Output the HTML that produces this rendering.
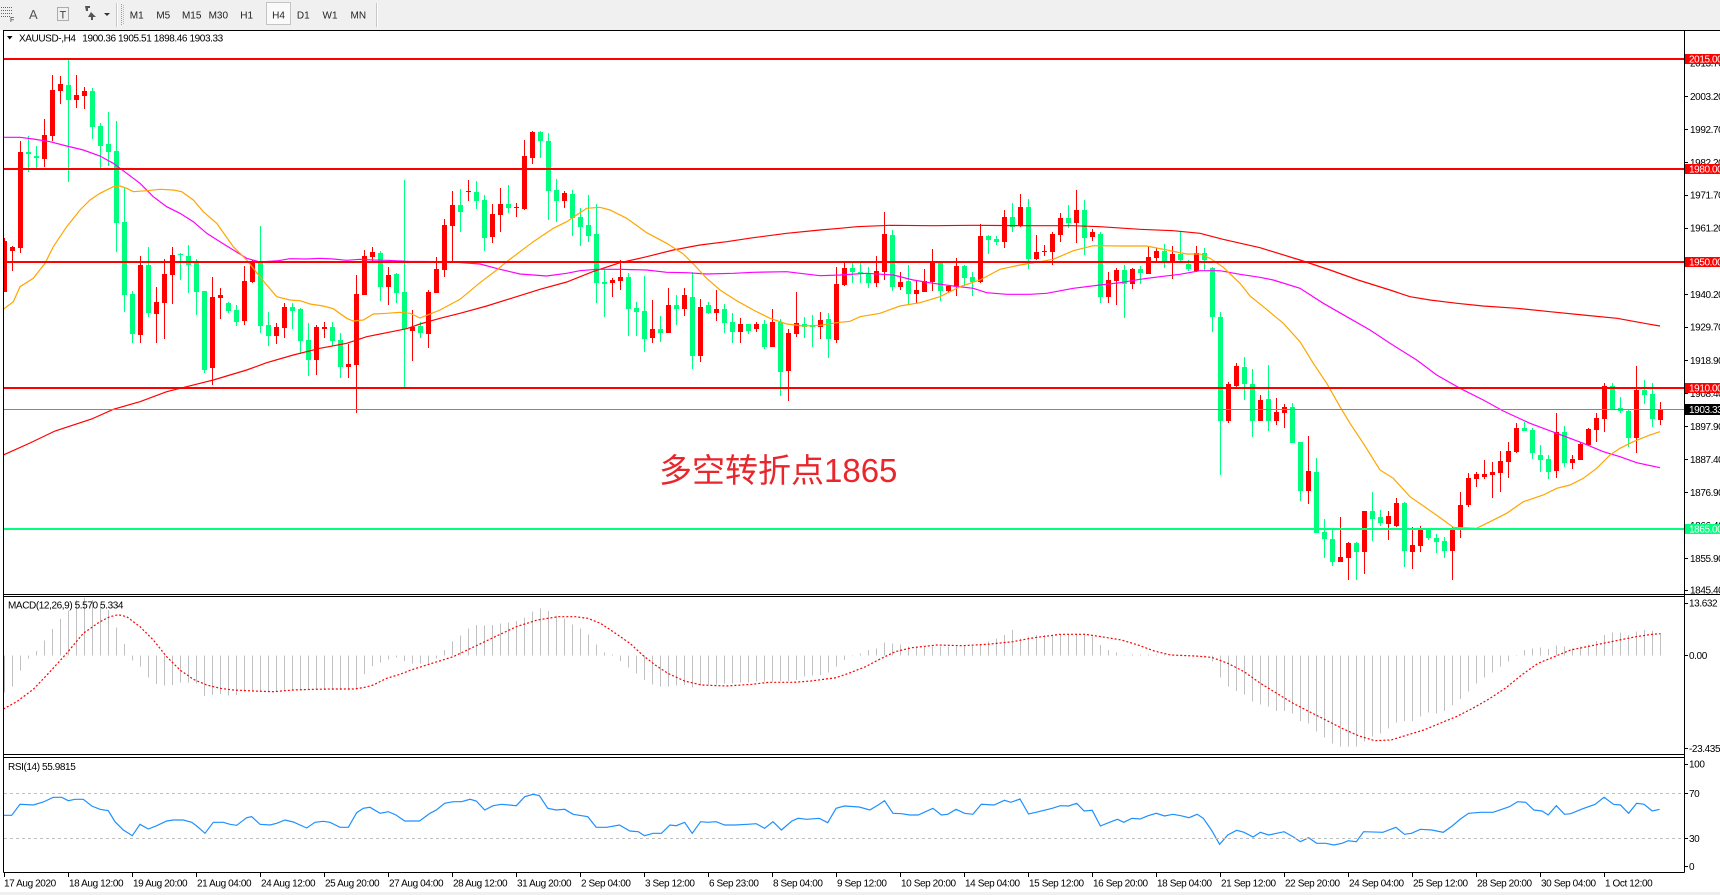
<!DOCTYPE html>
<html><head><meta charset="utf-8"><title>XAUUSD-,H4</title>
<style>
html,body{margin:0;padding:0;background:#fff}
body{width:1720px;height:895px;overflow:hidden}
svg{display:block}
text{font-family:"Liberation Sans","Noto Sans CJK SC",sans-serif}
.ax{font-size:10px;letter-spacing:-0.4px;fill:#000}
.tb{font-size:10px;fill:#222;text-anchor:middle}
.wl{font-size:10px;letter-spacing:-0.4px;fill:#fff}
.cj{font-family:"Liberation Sans","Noto Sans CJK SC","WenQuanYi Zen Hei",sans-serif;font-size:33px;fill:#E8262C}
</style></head><body>
<svg id="s" xmlns="http://www.w3.org/2000/svg" width="1720" height="895" viewBox="0 0 1720 895">
<defs>
<clipPath id="cm"><rect x="4" y="31" width="1680" height="563"/></clipPath>
<clipPath id="cd"><rect x="4" y="597" width="1680" height="157"/></clipPath>
<clipPath id="cr"><rect x="4" y="758" width="1680" height="114"/></clipPath>
</defs>
<rect x="0" y="0" width="1720" height="895" fill="#fff"/>
<!-- toolbar -->
<rect x="0" y="0" width="1720" height="30" fill="#F0F0F0"/>
<g stroke="#666" stroke-width="1" stroke-dasharray="1 1" shape-rendering="crispEdges">
<line x1="1" y1="7.5" x2="12" y2="7.5"/><line x1="1" y1="10.5" x2="12" y2="10.5"/><line x1="1" y1="13.5" x2="12" y2="13.5"/><line x1="1" y1="16.5" x2="10" y2="16.5"/>
<rect x="57.5" y="7.5" width="11" height="13" fill="none"/>
<line x1="121.5" y1="4" x2="121.5" y2="25" stroke="#999"/><line x1="123.5" y1="5" x2="123.5" y2="25" stroke="#bbb"/>
</g>
<text x="10" y="22" style="font-size:7px;fill:#333">F</text>
<text x="29" y="19" style="font-size:13px;fill:#555">A</text>
<text x="59.5" y="18.5" style="font-size:11px;fill:#444">T</text>
<polygon points="85,6 90,6 90,8 88,8 88,11 86,11" fill="#555"/>
<polygon points="91,12 96,17 93,17 93,20 91,20 91,17 88,17" fill="#555"/>
<polygon points="104,13 110,13 107,16" fill="#333"/>
<line x1="116.5" y1="3" x2="116.5" y2="27" stroke="#C8C8C8"/><line x1="117.5" y1="3" x2="117.5" y2="27" stroke="#fff"/>
<line x1="376.5" y1="3" x2="376.5" y2="27" stroke="#C8C8C8"/><line x1="377.5" y1="3" x2="377.5" y2="27" stroke="#fff"/>
<rect x="266.5" y="2.5" width="24" height="22" fill="#FAFAFA" stroke="#C4C4C4"/>
<text class="tb" x="136.7" y="18.5">M1</text>
<text class="tb" x="163.3" y="18.5">M5</text>
<text class="tb" x="191.7" y="18.5">M15</text>
<text class="tb" x="218.3" y="18.5">M30</text>
<text class="tb" x="246.7" y="18.5">H1</text>
<text class="tb" x="278.5" y="18.5">H4</text>
<text class="tb" x="303.3" y="18.5">D1</text>
<text class="tb" x="330" y="18.5">W1</text>
<text class="tb" x="358.3" y="18.5">MN</text>

<!-- chart area white -->
<rect x="0" y="30" width="1720" height="862" fill="#fff"/>
<rect x="0" y="892" width="1720" height="3" fill="#F0F0F0"/>

<g id="gm" clip-path="url(#cm)" shape-rendering="crispEdges"></g>
<g id="gd" clip-path="url(#cd)"></g>
<g id="gr" clip-path="url(#cr)"></g>

<!-- horizontal objects -->
<g shape-rendering="crispEdges">
<rect x="4" y="58" width="1680" height="2" fill="#FF0000"/>
<rect x="4" y="168" width="1680" height="2" fill="#FF0000"/>
<rect x="4" y="261" width="1680" height="2" fill="#FF0000"/>
<rect x="4" y="387" width="1680" height="2" fill="#FF0000"/>
<rect x="4" y="409" width="1680" height="1" fill="#7B8A99"/>
<rect x="4" y="528" width="1680" height="2" fill="#00FF7F"/>
<line x1="4" y1="793.5" x2="1684" y2="793.5" stroke="#C0C0C0" stroke-dasharray="3 3"/>
<line x1="4" y1="838.5" x2="1684" y2="838.5" stroke="#C0C0C0" stroke-dasharray="3 3"/>
</g>

<text class="cj" x="659" y="482">多空转折点1865</text>

<!-- frame -->
<g stroke="#000" stroke-width="1" shape-rendering="crispEdges" fill="none">
<line x1="3" y1="30.5" x2="1720" y2="30.5"/>
<line x1="3.5" y1="30.5" x2="3.5" y2="872.5"/>
<line x1="1684.5" y1="30.5" x2="1684.5" y2="872.5"/>
<line x1="3.5" y1="594.5" x2="1720" y2="594.5"/>
<line x1="3.5" y1="596.5" x2="1684.5" y2="596.5"/>
<line x1="3.5" y1="754.5" x2="1684.5" y2="754.5"/>
<line x1="3.5" y1="757.5" x2="1684.5" y2="757.5"/>
<line x1="3.5" y1="872.5" x2="1684.5" y2="872.5"/>
</g>

<!-- header -->
<polygon points="7,36 12.5,36 9.75,39.5" fill="#000"/>
<text class="ax" x="19" y="41.5">XAUUSD-,H4</text>
<text class="ax" x="82.3" y="41.5">1900.36 1905.51 1898.46 1903.33</text>
<text class="ax" x="8" y="608.5">MACD(12,26,9) 5.570 5.334</text>
<text class="ax" x="8" y="770">RSI(14) 55.9815</text>

<!-- right axis ticks -->
<g stroke="#000" shape-rendering="crispEdges">
<line x1="1684" y1="63.5" x2="1688" y2="63.5"/><line x1="1684" y1="96.5" x2="1688" y2="96.5"/><line x1="1684" y1="129.5" x2="1688" y2="129.5"/><line x1="1684" y1="162.5" x2="1688" y2="162.5"/><line x1="1684" y1="195.5" x2="1688" y2="195.5"/><line x1="1684" y1="228.5" x2="1688" y2="228.5"/><line x1="1684" y1="261.5" x2="1688" y2="261.5"/><line x1="1684" y1="294.5" x2="1688" y2="294.5"/><line x1="1684" y1="327.5" x2="1688" y2="327.5"/><line x1="1684" y1="360.5" x2="1688" y2="360.5"/><line x1="1684" y1="393.5" x2="1688" y2="393.5"/><line x1="1684" y1="426.5" x2="1688" y2="426.5"/><line x1="1684" y1="459.5" x2="1688" y2="459.5"/><line x1="1684" y1="492.5" x2="1688" y2="492.5"/><line x1="1684" y1="525.5" x2="1688" y2="525.5"/><line x1="1684" y1="558.5" x2="1688" y2="558.5"/><line x1="1684" y1="590.5" x2="1688" y2="590.5"/>
<line x1="1684" y1="603.5" x2="1688" y2="603.5"/><line x1="1684" y1="655.5" x2="1688" y2="655.5"/><line x1="1684" y1="748.5" x2="1688" y2="748.5"/>
<line x1="1684" y1="764.5" x2="1688" y2="764.5"/><line x1="1684" y1="793.5" x2="1688" y2="793.5"/><line x1="1684" y1="838.5" x2="1688" y2="838.5"/><line x1="1684" y1="866.5" x2="1688" y2="866.5"/>
</g>
<text class="ax" x="1690" y="66.5">2013.70</text>
<text class="ax" x="1690" y="99.8">2003.20</text>
<text class="ax" x="1690" y="132.8">1992.70</text>
<text class="ax" x="1690" y="166">1982.20</text>
<text class="ax" x="1690" y="198.5">1971.70</text>
<text class="ax" x="1690" y="231.5">1961.20</text>
<text class="ax" x="1690" y="264.5">1950.70</text>
<text class="ax" x="1690" y="297.8">1940.20</text>
<text class="ax" x="1690" y="330.5">1929.70</text>
<text class="ax" x="1690" y="363.8">1918.90</text>
<text class="ax" x="1690" y="397">1908.40</text>
<text class="ax" x="1690" y="429.8">1897.90</text>
<text class="ax" x="1690" y="462.8">1887.40</text>
<text class="ax" x="1690" y="495.8">1876.90</text>
<text class="ax" x="1690" y="529">1866.40</text>
<text class="ax" x="1690" y="562.2">1855.90</text>
<text class="ax" x="1690" y="593.5">1845.40</text>

<!-- price boxes -->
<g shape-rendering="crispEdges">
<rect x="1685" y="54" width="35" height="10" fill="#FF0000"/>
<rect x="1685" y="164" width="35" height="10" fill="#FF0000"/>
<rect x="1685" y="257" width="35" height="10" fill="#FF0000"/>
<rect x="1685" y="383" width="35" height="10" fill="#FF0000"/>
<rect x="1685" y="404" width="35" height="11" fill="#000"/>
<rect x="1685" y="524" width="35" height="10" fill="#00FF7F"/>
</g>
<text class="wl" x="1689" y="62.5">2015.00</text>
<text class="wl" x="1689" y="172.5">1980.00</text>
<text class="wl" x="1689" y="265.5">1950.00</text>
<text class="wl" x="1689" y="391.5">1910.00</text>
<text class="wl" x="1689" y="413">1903.33</text>
<text class="wl" x="1689" y="532.5">1865.00</text>

<text class="ax" x="1689" y="606.5">13.632</text>
<text class="ax" x="1689" y="658.8">0.00</text>
<text class="ax" x="1689" y="752.2">-23.435</text>
<text class="ax" x="1689" y="767.5">100</text>
<text class="ax" x="1689" y="796.8">70</text>
<text class="ax" x="1689" y="841.8">30</text>
<text class="ax" x="1689" y="870.2">0</text>

<!-- x axis -->
<g stroke="#000" shape-rendering="crispEdges">
<line x1="4.5" y1="873" x2="4.5" y2="877"/><line x1="68.5" y1="873" x2="68.5" y2="877"/><line x1="132.5" y1="873" x2="132.5" y2="877"/><line x1="196.5" y1="873" x2="196.5" y2="877"/><line x1="260.5" y1="873" x2="260.5" y2="877"/><line x1="324.5" y1="873" x2="324.5" y2="877"/><line x1="388.5" y1="873" x2="388.5" y2="877"/><line x1="452.5" y1="873" x2="452.5" y2="877"/><line x1="516.5" y1="873" x2="516.5" y2="877"/><line x1="580.5" y1="873" x2="580.5" y2="877"/><line x1="644.5" y1="873" x2="644.5" y2="877"/><line x1="708.5" y1="873" x2="708.5" y2="877"/><line x1="772.5" y1="873" x2="772.5" y2="877"/><line x1="836.5" y1="873" x2="836.5" y2="877"/><line x1="900.5" y1="873" x2="900.5" y2="877"/><line x1="964.5" y1="873" x2="964.5" y2="877"/><line x1="1028.5" y1="873" x2="1028.5" y2="877"/><line x1="1092.5" y1="873" x2="1092.5" y2="877"/><line x1="1156.5" y1="873" x2="1156.5" y2="877"/><line x1="1220.5" y1="873" x2="1220.5" y2="877"/><line x1="1284.5" y1="873" x2="1284.5" y2="877"/><line x1="1348.5" y1="873" x2="1348.5" y2="877"/><line x1="1412.5" y1="873" x2="1412.5" y2="877"/><line x1="1476.5" y1="873" x2="1476.5" y2="877"/><line x1="1540.5" y1="873" x2="1540.5" y2="877"/><line x1="1604.5" y1="873" x2="1604.5" y2="877"/>
</g>
<g class="ax">
<text class="ax" x="4" y="886.5">17 Aug 2020</text>
<text class="ax" x="69" y="886.5">18 Aug 12:00</text>
<text class="ax" x="133" y="886.5">19 Aug 20:00</text>
<text class="ax" x="197" y="886.5">21 Aug 04:00</text>
<text class="ax" x="261" y="886.5">24 Aug 12:00</text>
<text class="ax" x="325" y="886.5">25 Aug 20:00</text>
<text class="ax" x="389" y="886.5">27 Aug 04:00</text>
<text class="ax" x="453" y="886.5">28 Aug 12:00</text>
<text class="ax" x="517" y="886.5">31 Aug 20:00</text>
<text class="ax" x="581" y="886.5">2 Sep 04:00</text>
<text class="ax" x="645" y="886.5">3 Sep 12:00</text>
<text class="ax" x="709" y="886.5">6 Sep 23:00</text>
<text class="ax" x="773" y="886.5">8 Sep 04:00</text>
<text class="ax" x="837" y="886.5">9 Sep 12:00</text>
<text class="ax" x="901" y="886.5">10 Sep 20:00</text>
<text class="ax" x="965" y="886.5">14 Sep 04:00</text>
<text class="ax" x="1029" y="886.5">15 Sep 12:00</text>
<text class="ax" x="1093" y="886.5">16 Sep 20:00</text>
<text class="ax" x="1157" y="886.5">18 Sep 04:00</text>
<text class="ax" x="1221" y="886.5">21 Sep 12:00</text>
<text class="ax" x="1285" y="886.5">22 Sep 20:00</text>
<text class="ax" x="1349" y="886.5">24 Sep 04:00</text>
<text class="ax" x="1413" y="886.5">25 Sep 12:00</text>
<text class="ax" x="1477" y="886.5">28 Sep 20:00</text>
<text class="ax" x="1541" y="886.5">30 Sep 04:00</text>
<text class="ax" x="1605" y="886.5">1 Oct 12:00</text>
</g>
</svg>
<script>
(function(){
var C=[[238,241,292,292,1],[246,247,251,271,1],[141,152,248,253,1],[136,152,154,172,0],[146,156,158,168,0],
[119,135,159,167,1],[75,90,136,141,1],[76,84,91,104,1],[60,85,100,182,0],[75,95,100,108,1],
[87,91,96,109,1],[88,91,127,139,0],[123,126,146,168,0],[112,144,152,166,0],[121,151,223,252,0],
[187,222,295,312,0],[291,294,334,343,0],[256,265,335,343,1],[247,265,313,317,0],[287,302,314,343,1],
[259,274,303,339,1],[247,255,275,304,1],[253,254,255,280,0],[245,256,265,293,0],[259,263,292,315,0],
[291,291,370,373,0],[277,297,368,385,1],[288,295,298,319,1],[302,303,311,313,0],[305,310,322,326,0],
[266,281,321,325,1],[260,262,282,283,1],[226,263,326,333,0],[312,325,336,346,0],[323,327,336,344,1],
[303,307,328,338,1],[303,307,311,329,0],[308,309,341,354,0],[323,340,360,376,0],[325,327,360,375,1],
[322,327,329,338,1],[322,327,341,346,0],[333,340,367,378,0],[344,364,367,378,1],[275,294,365,413,1],
[250,256,295,295,1],[247,252,257,262,1],[251,253,287,301,0],[267,275,287,305,1],[273,274,293,303,0],
[180,292,329,387,0],[310,327,331,361,1],[322,326,333,338,0],[290,292,334,348,1],[257,269,293,293,1],
[219,225,270,277,1],[191,205,226,262,1],[189,205,212,232,0],[180,191,192,201,1],[181,192,201,209,0],
[195,200,238,251,0],[204,214,237,243,1],[188,204,215,232,1],[185,204,208,213,0],[203,207,208,217,1],
[140,156,209,210,1],[131,132,158,164,1],[131,132,141,158,0],[133,141,191,220,0],[179,190,201,222,0],
[191,193,201,208,1],[190,194,218,236,0],[208,217,227,246,0],[195,225,236,242,0],[204,234,283,303,0],
[270,282,284,317,0],[278,280,283,297,1],[260,277,281,290,1],[273,277,309,336,0],[302,308,312,336,0],
[276,311,339,352,0],[300,329,338,343,1],[316,329,333,342,0],[288,305,333,333,1],[295,305,309,325,0],
[288,295,309,316,1],[272,297,356,369,0],[299,307,356,362,1],[302,305,313,314,0],[290,309,313,321,1],
[304,309,323,333,0],[313,322,332,343,0],[318,324,332,343,1],[324,324,331,334,0],[322,324,329,332,1],
[320,324,347,349,0],[309,322,347,347,1],[319,322,372,396,0],[329,333,371,401,1],[292,323,334,337,1],
[317,324,327,338,0],[315,325,327,347,0],[312,320,327,339,1],[313,319,339,358,0],[267,284,340,343,1],
[262,268,285,286,1],[263,268,272,283,0],[261,272,274,283,0],[267,274,283,288,0],[256,271,283,287,1],
[212,234,272,280,1],[230,235,287,291,0],[272,282,287,290,1],[265,281,294,304,0],[280,290,294,303,1],
[269,281,292,292,1],[249,263,282,291,1],[263,263,291,301,0],[285,286,291,292,1],[258,266,287,296,1],
[265,266,278,286,0],[272,277,282,296,0],[224,236,282,283,1],[235,236,240,254,0],[236,239,242,245,0],
[210,217,242,248,1],[203,217,227,232,0],[194,207,226,227,1],[199,207,259,269,0],[235,252,259,260,1],
[245,251,252,256,1],[232,234,252,265,1],[213,218,235,242,1],[205,218,223,228,0],[190,210,223,243,1],
[200,210,238,255,0],[229,232,237,241,1],[232,234,297,303,0],[272,280,297,303,1],[268,270,281,305,1],
[265,270,284,318,0],[268,269,284,289,1],[266,269,273,284,0],[247,257,274,274,1],[248,251,258,263,1],
[244,251,262,268,0],[246,254,263,279,1],[232,254,260,263,0],[260,264,269,271,0],[246,253,271,272,1],
[248,253,260,270,0],[267,268,317,332,0],[312,317,421,475,0],[382,384,421,423,1],[363,366,386,389,1],
[357,367,384,400,0],[369,384,421,437,0],[395,400,421,421,1],[365,399,421,431,0],[398,412,421,425,1],
[404,407,413,428,1],[403,407,443,443,0],[442,442,491,501,0],[436,471,491,504,1],[458,472,533,533,0],
[519,532,539,558,0],[529,539,562,566,0],[517,557,562,562,1],[542,543,558,580,1],[542,543,552,580,0],
[511,511,552,574,1],[492,511,519,541,0],[510,517,523,526,0],[511,516,524,540,1],[498,503,526,527,1],
[502,503,551,567,0],[527,545,552,569,1],[526,529,546,552,1],[528,529,538,540,0],[534,538,542,553,0],
[537,541,551,558,0],[527,529,551,580,1],[492,505,528,538,1],[473,478,505,507,1],[472,474,479,487,1],
[460,474,477,479,1],[462,472,475,498,1],[451,461,473,492,1],[442,451,462,478,1],[423,428,452,453,1],
[422,428,431,431,0],[428,430,453,459,0],[445,455,460,472,0],[455,459,472,479,0],[413,432,471,478,1],
[426,432,463,467,0],[455,459,463,469,1],[442,444,460,460,1],[428,429,445,446,1],[413,418,430,442,1],
[383,386,419,432,1],[383,386,409,409,0],[397,408,411,413,0],[409,411,438,447,0],[366,390,438,453,1],
[380,390,395,404,0],[383,394,419,427,0],[402,409,420,425,1]];
var H=[692.7,686.7,670.7,658.3,651,640.7,629,619,610.7,600,
598,600,604,610,627.3,644,660.7,666.7,677.3,684,
685.7,685,682.7,682.3,683.3,696,695,694,695.7,695,
691.7,691.7,691.7,691.7,691.7,691,690.7,690.7,690,690,
690,690,690,690.7,690,674,666,662.7,659.3,657.5,
661,663.3,663.3,663.3,658.3,650,641.7,635.7,628.3,625,
625.7,625,623.3,622.3,621,617.7,611.7,608.3,611,615.7,
618.3,624.3,628.3,634.3,644.3,652.3,654.3,661,667.7,673.3,
680,684.3,686.7,686.7,685.7,685,687.7,685.7,684.3,684.3,
683.3,683.3,682.3,682.3,681.7,681.7,681.7,681,681,680,
676.7,675.7,675,672.3,666.7,660,655.7,653.3,650,648.3,
642.3,643.3,644.3,646.7,646.7,646.7,646.7,646.7,646.7,646.7,
646.7,645,644.3,641.7,638.3,635,630,638.3,636.7,635,
635,635.7,635,634.3,633.3,633.3,636.7,645,650,652.3,
655,654.3,654.3,654.3,654.3,654.3,654.3,655,655.7,655.7,
656.7,661.7,677.7,686.7,691,694.3,701.7,704.3,706.7,711,
711,713.3,721,723.3,731.7,737.7,743.3,746.7,746.7,746.7,
741.7,736.7,733.3,728.3,722.3,721,721,716.7,712.3,713.3,
711,705,699,691.7,683.3,677.7,672.3,666.7,661.7,655.7,
650,648.3,647.7,649,645.7,646.7,648.3,646.7,644.3,641,
635,632.3,632.3,635,631.7,630,631,633.3];
var O=[3.3,309.3,13.3,301.7,20,286.7,33.3,278.3,45,263.3,53.3,246.7,66.7,226.7,80,210,90,200,100,193.3,113.3,186.7,120,186,126.7,188.3,133.3,191.7,146.7,190.7,160,189.3,173.3,190,181.7,191.7,193.3,200,203.3,211.7,216.7,223.3,233.3,246.7,246.7,260,260,276.7,266.7,285,276.7,296.7,290,300,300,300.7,310,304,323.3,306,333.3,308.7,346.7,318.3,353.3,321,363.3,320,373.3,314,386.7,313.3,400,312.3,410,313.3,420,318,440,310,460,299.3,480,282.7,496.7,270,506.7,261.7,520,251.7,533.3,241.7,553.3,228.3,566.7,221.7,576.7,215,586.7,208.3,600,207.3,610,210,626.7,218.3,646.7,232.7,666.7,243.3,683.3,254,693.3,264,706.7,278.3,720,290,736.7,300.7,753.3,310,770,318.3,786.7,324,803.3,326,820,325.3,836.7,322.7,850,321.3,860,316.7,880,313.3,900,306,920,302.7,940,296.7,960,286.7,980,280,1000,269.3,1020,265,1040,261.7,1053.3,259.3,1073.3,250.7,1093.3,245.7,1120,246,1146.7,246,1166.7,250,1186.7,254,1200,254,1210,258.3,1223.3,267.3,1240,283.3,1250,296,1263.3,306.7,1283.3,323.3,1300,341.7,1313.3,363.3,1326.7,383.3,1340,406.7,1350,423.3,1363.3,443.3,1380,470,1393.3,478.3,1410,496.7,1426.7,508.3,1443.3,520,1453.3,527.3,1476.7,528.3,1490,521.7,1506.7,513.3,1523.3,501.7,1543.3,495,1556.7,488.3,1570,485,1583.3,478.3,1596.7,468.3,1610,455,1620,448.3,1633.3,441.7,1650,435,1660,431.7];
var M=[3.3,137.3,20,137.3,33.3,139,50,141.7,66.7,146,83.3,150,100,156,113.3,163.3,126.7,173.3,140,183.3,153.3,196.7,166.7,206.7,180,213.3,193.3,221.7,206.7,233.3,220,241.7,233.3,250,246.7,258.3,260,262,278.3,260.7,290,258.7,306.7,259,320,258.3,333.3,259,346.7,260.3,360,259.3,373.3,260,386.7,260.3,408.3,261.3,448.3,261.7,480,264,500,269.3,520,274,546.7,276,566.7,273.3,580,270.7,596.7,269.3,620,269.3,646.7,270,666.7,272.3,686.7,272.7,706.7,274,733.3,273.3,753.3,272.3,786.7,271.7,800,273.3,820,275.7,840,275,866.7,273.3,893.3,275,913.3,280,933.3,283.3,953.3,286,973.3,288.3,986.7,292.7,1006.7,294.3,1030,294.3,1046.7,293.3,1073.3,288.3,1100,285,1120,282.7,1140,279.3,1160,276.7,1180,274.3,1200,270.7,1220,270.7,1240,274.3,1260,277.3,1273.3,280,1300,288.3,1323.3,303.3,1346.7,316.7,1370,330,1390,343.3,1416.7,360,1436.7,375,1460,388.3,1483.3,400,1503.3,411,1530,423.3,1556.7,433.3,1583.3,443.3,1603.3,451.7,1620,456.7,1636.7,462.7,1660,467.7];
var R=[3.3,455,30,443,55,431,91.7,419,113.3,409.3,140,401.7,166.7,391.7,186.7,386.7,213.3,380,246.7,370,266.7,362.7,293.3,355,320,348.3,346.7,343.3,366.7,336.7,386.7,332.7,406.7,328.7,420,324,440,318.3,460,313.3,486.7,306,513.3,297.7,540,289.3,566.7,282,593.3,271.5,620,262.7,646.7,256.7,673.3,250,700,245,726.7,241.7,753.3,237.7,786.7,233.3,820,230,840,228.3,856.7,226.7,890,225.3,933,225.7,973,225.3,1023,225.7,1073,225.7,1100,226.7,1140,229.3,1173,230.7,1200,233.3,1223,239.3,1260,247.7,1300,260,1330,270,1358,280,1390,290,1410,296.7,1430,300,1457,303.3,1483,306,1517,308.3,1550,311.7,1583,315,1617,318.3,1650,324.3,1660,326];
var S=[3.3,709,16.7,701.7,33.3,689.3,50,671.7,66.7,653.3,83.3,633.3,100,621.7,110,616.7,118.3,614.7,126.7,616.7,140,626.7,153.3,640,166.7,656.7,180,670,193.3,679.3,206.7,685,220,688.3,233.3,690,253.3,691,273.3,691.7,293.3,690,313.3,689.3,333.3,689,353.3,689,363.3,687.7,373.3,685,386.7,678.3,400,674.3,411,670,432.1,663.3,453.1,656.7,474.2,646.7,495.2,636.7,516.3,626.7,537.3,620,558.4,616.7,575.2,616.7,587.8,618.3,600.4,623.3,613.1,631.7,629.9,643.3,642.5,655,655.2,665,667.8,673.3,684.6,681,701.5,685,726.7,686,752,684.3,768.8,682.3,794,682.3,810.9,681,836.1,677.7,848.7,673.3,865.6,666.7,878.2,660,895.1,651.7,911.9,647.7,937.2,645,962.4,645.7,987.6,644.3,1012.9,641.7,1034,637.7,1050,635.7,1060.4,634.3,1084.9,634.3,1101.2,636.7,1121.6,640,1138,645,1154.3,651,1170.6,655,1195.1,656,1211.4,657.3,1227.8,663.3,1244.1,671.7,1260.4,683.3,1276.7,693.3,1293.1,703.3,1309.4,711.7,1325.7,720,1342,728.3,1358.4,735.7,1374.7,740.7,1391,740,1407.3,735,1423.7,730,1440,723.3,1456.3,716.7,1472.7,708.3,1489,699,1505.3,688.3,1521.6,675,1538,663.3,1554.3,656.7,1570.6,650,1587,646.7,1603.3,643.3,1619.6,640,1636,636.7,1652.2,634.3,1660.4,633.7];
var RS=[3.3,815.3,11.7,815.3,20,804.3,33.3,805,43.3,802,53.3,797.3,61.7,797.3,68.3,800.7,75,799.3,83.3,799.3,91.7,806,100,809.3,108.3,810.7,115,821.7,123.3,830,132.3,835.7,140,824.3,148.3,829,156.7,825.7,166.7,821,173.3,820,183.3,820,191.7,822.3,196.7,826,205,833.3,213.3,822.3,223.3,822.3,230,824.3,236.7,825.3,246.7,817.7,251.7,816.7,260,824.3,270,825,276.7,823.3,285,820,293.3,822,306.7,828,315,822.3,323.3,821.3,330,822.3,340,827.3,348.3,827.3,356.7,812.7,363.3,808.3,370,807.3,380,813.3,388.3,811.7,396,815,404.7,821,419.5,821,430,813.3,436.3,810,444.7,803.3,453.1,801.7,461.6,801.7,470,799.3,476.3,801,484.7,810,493.1,805.7,501.5,804.3,516.3,805.7,524.7,796.7,533.1,794.3,539.4,795.7,547.8,808.3,556.2,810,564.7,809.3,573.1,814.3,587.8,816.7,596.2,827.3,606.7,827.3,619.4,825,629.9,831,638.3,831.7,644.6,835.7,653.1,833.3,661.5,833.3,669.9,825,676.2,825.7,684.6,822.3,692.2,833.3,700.6,821.7,707.8,822.3,716.2,821.7,724.6,825,735.1,825,747.7,824.3,756.2,823.7,764.6,828.3,773,821.7,781.4,830,791.9,821,798.2,818.3,806.7,819.3,819.3,818.3,827.7,822.7,836.1,808.3,844.5,806,859.3,807,869.8,810,878.2,805,884.5,800.7,893,813.3,901.4,813.7,909.8,815,918.2,815,932.9,808.3,941.4,815,947.7,814.3,956.1,809.3,964.5,813.3,972.9,814.3,981.3,804.3,994,805,1004.5,800.3,1010.8,802.3,1020,799,1028.5,814,1036,812.3,1052.2,808.3,1060.4,805.7,1068.6,806,1076.7,803.3,1084.1,811,1092.2,810.3,1100.4,826,1109.4,822.3,1117.6,819.3,1123.7,822.3,1131.8,818.3,1140,819,1148.2,815.7,1156.3,813.3,1164.5,816,1172.7,814.3,1180.8,815.7,1189,817.7,1197.1,814.3,1203.3,818.3,1211.4,830,1219.6,844.3,1227.8,835,1236.7,830.3,1244.1,832.3,1253.1,837,1260.4,832.3,1268.6,835,1284.1,831.7,1293.1,836.7,1300.4,841.7,1308.6,837.7,1316.7,843.3,1325.7,843.3,1333.9,845,1342,843.3,1348.2,840.7,1356.3,841.7,1363.7,831.7,1382.9,832.3,1395.9,827.3,1404.5,834.3,1411.4,833.3,1420.4,829.3,1431.8,830,1443.3,832.3,1452.2,826,1460.4,819,1468.6,813.3,1480.8,812.3,1493.1,812.3,1509.4,806.7,1517.6,801.7,1525.7,802.3,1533.9,810,1542,811,1548.2,815,1556.3,805.7,1564.5,814.3,1570.6,813.7,1582.9,808.7,1595.1,804.3,1604.1,797.3,1613.5,804.3,1620.4,805,1628.6,813.3,1636.7,803.3,1644.1,804.3,1652.2,811,1659.6,809.3];
function P(a){var r='';for(var i=0;i<a.length;i+=2){r+=a[i]+','+a[i+1]+' ';}return r;}
var s='',k,c,col;
for(k=0;k<C.length;k++){c=C[k];col=c[4]?'#FF0000':'#00FF7F';
s+='<rect x="'+(4+8*k)+'" y="'+c[0]+'" width="1" height="'+Math.max(1,c[3]-c[0])+'" fill="'+col+'"/>';
s+='<rect x="'+(2+8*k)+'" y="'+c[1]+'" width="5" height="'+Math.max(1,c[2]-c[1])+'" fill="'+col+'"/>';}
s+='<polyline shape-rendering="auto" points="'+P(R)+'" fill="none" stroke="#FF0000" stroke-width="1.2"/>';
s+='<polyline shape-rendering="auto" points="'+P(M)+'" fill="none" stroke="#FF00FF" stroke-width="1.2"/>';
s+='<polyline shape-rendering="auto" points="'+P(O)+'" fill="none" stroke="#FFA500" stroke-width="1.2"/>';
document.getElementById('gm').innerHTML=s;
var d='',z=655.5,v;
for(k=0;k<H.length;k++){v=H[k];
d+='<rect shape-rendering="crispEdges" x="'+(4+8*k)+'" y="'+Math.min(v,z)+'" width="1" height="'+Math.max(0.6,Math.abs(v-z))+'" fill="#C0C0C0"/>';}
d+='<polyline points="'+P(S)+'" fill="none" stroke="#FF0000" stroke-width="1.2" stroke-dasharray="2 2"/>';
document.getElementById('gd').innerHTML=d;
document.getElementById('gr').innerHTML='<polyline points="'+P(RS)+'" fill="none" stroke="#1E90FF" stroke-width="1.2"/>';
})();
</script>
</body></html>
